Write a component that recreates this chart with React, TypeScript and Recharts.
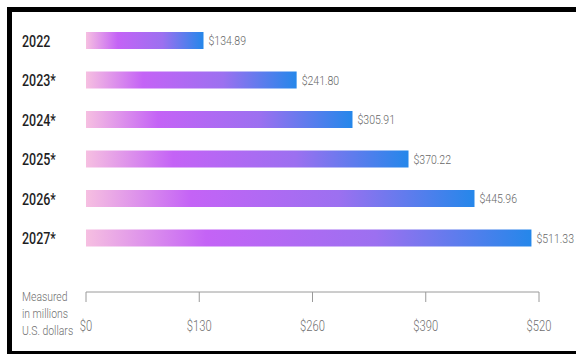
import { Bar, BarChart, LabelList, XAxis, YAxis } from "recharts"

const years = ["2022", "2023*", "2024*", "2025*", "2026*", "2027*"]
const revenue = [134.89, 241.8, 305.91, 370.22, 445.96, 511.33]
const xTicks = [0, 130, 260, 390, 520]
const unitLines = ["Measured", "in millions", "U.S. dollars"]

const data = years.map((year, i) => ({ year, value: revenue[i] }))

const font = "Roboto, 'Liberation Sans', sans-serif"

// the original uses a narrow face, so squeeze Roboto sideways
function NarrowText({ x, y, text, size, weight, fill, anchor = "start", dy = "0", sx = 0.8 }: any) {
  return (
    <text
      transform={`translate(${x},${y}) scale(${sx},1)`}
      textAnchor={anchor}
      dy={dy}
      fontFamily={font}
      fontSize={size}
      fontWeight={weight}
      fill={fill}
    >
      {text}
    </text>
  )
}

// year labels sit flush left, not against the axis
function YearTick({ y, payload }: any) {
  return <NarrowText x={22} y={y} dy="0.36em" text={payload.value} size={16} weight={500} fill="#1f1f1f" sx={0.78} />
}

function DollarTick({ x, y, payload }: any) {
  return <NarrowText x={x} y={y} dy="0.71em" anchor="middle" text={`$${payload.value}`} size={14} weight={300} fill="#6f6f6f" />
}

function ValueLabel({ x, y, width, height, value }: any) {
  return (
    <NarrowText
      x={x + width + 5}
      y={y + height / 2}
      dy="0.36em"
      text={`$${Number(value).toFixed(2)}`}
      size={13.5}
      weight={300}
      fill="#676767"
      sx={0.78}
    />
  )
}

export default function App() {
  return (
    <div style={{ position: "absolute", left: 0, top: 0, width: 576, height: 354, overflow: "hidden", background: "#fff" }}>
      <div
        style={{
          position: "absolute",
          left: 7,
          top: 7,
          width: 620,
          height: 347,
          boxSizing: "border-box",
          borderLeft: "5px solid #000",
          borderTop: "5px solid #000",
          borderBottom: "3px solid #000",
        }}
      />
      <BarChart
        width={576}
        height={354}
        data={data}
        layout="vertical"
        margin={{ top: 21, right: 37, bottom: 20, left: 16 }}
        style={{ position: "absolute", left: 0, top: 0 }}
      >
        <defs>
          <linearGradient id="barFill" x1="0" y1="0" x2="1" y2="0">
            <stop offset="0%" stopColor="#f6bfe1" />
            <stop offset="27%" stopColor="#c463f6" />
            <stop offset="65%" stopColor="#9c70f0" />
            <stop offset="100%" stopColor="#2587ea" />
          </linearGradient>
        </defs>
        <XAxis
          type="number"
          domain={[0, 520]}
          ticks={xTicks}
          axisLine={{ stroke: "#9a9a9a" }}
          tickLine={{ stroke: "#9a9a9a" }}
          tickSize={10}
          tickMargin={19}
          height={42}
          tick={<DollarTick />}
        />
        <YAxis
          type="category"
          dataKey="year"
          width={70}
          axisLine={false}
          tickLine={false}
          padding={{ top: 0, bottom: 34 }}
          tick={<YearTick />}
        />
        <Bar dataKey="value" fill="url(#barFill)" barSize={17} isAnimationActive={false}>
          <LabelList dataKey="value" content={<ValueLabel />} />
        </Bar>
      </BarChart>
      <div
        style={{
          position: "absolute",
          left: 22,
          top: 288,
          fontFamily: font,
          fontWeight: 300,
          fontSize: 13,
          lineHeight: "17px",
          color: "#6f6f6f",
          transform: "scaleX(0.8)",
          transformOrigin: "left top",
          whiteSpace: "nowrap",
        }}
      >
        {unitLines.map((line) => (
          <div key={line}>{line}</div>
        ))}
      </div>
    </div>
  )
}
